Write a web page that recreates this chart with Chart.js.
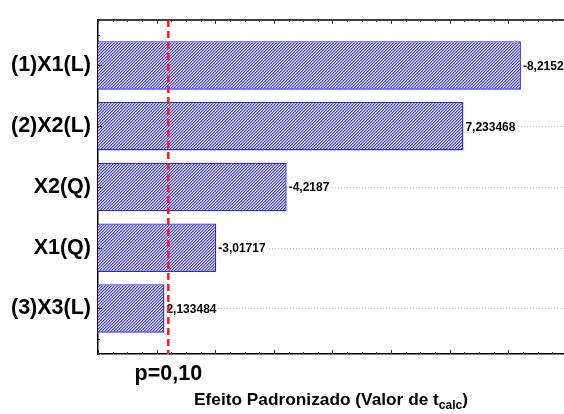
<html lang="pt">
  <head>
    <meta charset="UTF-8" />
    <script src="https://cdn.jsdelivr.net/npm/chart.js"></script>
    <title>Pareto</title>
    <style>
      body { margin: 0; background: #fff; }
      #wrap { width: 564px; height: 414px; }
    </style>
  </head>
  <body>
    <div id="wrap"><canvas id="paretoChart"></canvas></div>
    <script>
        // fatores (de cima para baixo)
        const labels = ['(1)X1(L)', '(2)X2(L)', 'X2(Q)', 'X1(Q)', '(3)X3(L)'];
        const positions = [1, 2, 3, 4, 5];
        // efeito padronizado em valor absoluto (comprimento da barra)
        const barValues = [8.2152, 7.233468, 4.2187, 3.01717, 2.133484];
        // texto mostrado ao lado de cada barra
        const barTexts = ['-8,2152', '7,233468', '-4,2187', '-3,01717', '2,133484'];
        // linha de significancia
        const pValue = 2.2;
        const pText = 'p=0,10';

        const font = '"Liberation Sans", Arial, sans-serif';

        // padrao hachurado das barras
        function makeHatch() {
            const c = document.createElement('canvas');
            c.width = 3; c.height = 3;
            const g = c.getContext('2d');
            const cols = ['#3f3fff', '#9c9cff', '#e2e2ff'];
            for (let x = 0; x < 3; x++) {
                for (let y = 0; y < 3; y++) {
                    g.fillStyle = cols[(x + y) % 3];
                    g.fillRect(x, y, 1, 1);
                }
            }
            return g.createPattern(c, 'repeat');
        }

        const decorPlugin = {
            id: 'decor',
            beforeDatasetsDraw(chart) {
                const { ctx, chartArea: a, scales: { y } } = chart;
                ctx.save();
                ctx.strokeStyle = '#c4c4c4';
                ctx.lineWidth = 1;
                ctx.setLineDash([1, 2]);
                positions.forEach(p => {
                    const py = Math.round(y.getPixelForValue(p)) + 0.5;
                    ctx.beginPath();
                    ctx.moveTo(a.left, py);
                    ctx.lineTo(a.right, py);
                    ctx.stroke();
                });
                ctx.restore();
            },
            afterDatasetsDraw(chart) {
                const { ctx, chartArea: a, scales: { x, y } } = chart;
                ctx.save();

                // rotulos das barras
                const meta = chart.getDatasetMeta(0);
                ctx.font = 'bold 12px ' + font;
                ctx.textBaseline = 'middle';
                ctx.textAlign = 'left';
                meta.data.forEach((bar, i) => {
                    const tx = bar.x + 2;
                    const w = ctx.measureText(barTexts[i]).width;
                    ctx.fillStyle = '#fff';
                    ctx.fillRect(tx, bar.y - 6, w + 1, 12);
                    ctx.fillStyle = '#000';
                    ctx.fillText(barTexts[i], tx, bar.y + 1);
                });

                // borda superior
                ctx.strokeStyle = '#000';
                ctx.lineWidth = 1.5;
                ctx.beginPath();
                ctx.moveTo(a.left, a.top);
                ctx.lineTo(a.right, a.top);
                ctx.stroke();

                // marcas internas do eixo x
                ctx.lineWidth = 1;
                ctx.strokeStyle = '#333';
                for (let v = x.min; v <= x.max + 1e-9; v += 0.25) {
                    const px = Math.round(x.getPixelForValue(v)) + 0.5;
                    const len = Math.abs(v - Math.round(v)) < 1e-6 ? 4 : 2;
                    ctx.beginPath();
                    ctx.moveTo(px, a.bottom);
                    ctx.lineTo(px, a.bottom - len);
                    ctx.moveTo(px, a.top);
                    ctx.lineTo(px, a.top + len);
                    ctx.stroke();
                }
                // marcas internas do eixo y
                [0.5].concat(positions, [5.5]).forEach(p => {
                    const py = Math.round(y.getPixelForValue(p)) + 0.5;
                    const len = Number.isInteger(p) ? 4 : 2;
                    ctx.beginPath();
                    ctx.moveTo(a.left, py);
                    ctx.lineTo(a.left + len, py);
                    ctx.stroke();
                });

                // linha p=0,10
                const lx = x.getPixelForValue(pValue);
                ctx.strokeStyle = '#ff1a1a';
                ctx.lineWidth = 2.5;
                ctx.setLineDash([7, 4]);
                ctx.beginPath();
                ctx.moveTo(lx, a.top);
                ctx.lineTo(lx, a.bottom);
                ctx.stroke();
                ctx.setLineDash([]);

                ctx.fillStyle = '#000';
                ctx.textAlign = 'center';
                ctx.textBaseline = 'alphabetic';
                ctx.font = 'bold 21.5px ' + font;
                ctx.fillText(pText, lx, 380);

                // titulo do eixo x com subscrito
                const main = 'Efeito Padronizado (Valor de t';
                const sub = 'calc';
                const end = ')';
                ctx.font = 'bold 17.3px ' + font;
                const w1 = ctx.measureText(main).width;
                const w3 = ctx.measureText(end).width;
                ctx.font = 'bold 12px ' + font;
                const w2 = ctx.measureText(sub).width;
                let tx = (a.left + a.right) / 2 - (w1 + w2 + w3) / 2;
                ctx.textAlign = 'left';
                ctx.font = 'bold 17.3px ' + font;
                ctx.fillText(main, tx, 405);
                tx += w1;
                ctx.font = 'bold 12px ' + font;
                ctx.fillText(sub, tx, 409);
                tx += w2;
                ctx.font = 'bold 17.3px ' + font;
                ctx.fillText(end, tx, 405);

                ctx.restore();
            }
        };

        const ctx = document.getElementById('paretoChart').getContext('2d');
        const hatch = makeHatch();

        const paretoChart = new Chart(ctx, {
            type: 'bar',
            data: {
                datasets: [{
                    data: positions.map((p, i) => ({ x: barValues[i], y: p })),
                    backgroundColor: hatch,
                    borderColor: '#2828ff',
                    borderWidth: 1.4,
                    borderSkipped: 'start',
                    barPercentage: 0.8,
                    categoryPercentage: 1
                }]
            },
            options: {
                indexAxis: 'y',
                responsive: true,
                maintainAspectRatio: false,
                animation: false,
                layout: { padding: { top: 10, left: 0, right: 0, bottom: 0 } },
                plugins: {
                    legend: { display: false },
                    tooltip: { enabled: false }
                },
                scales: {
                    x: {
                        type: 'linear',
                        min: 1,
                        max: 8.95,
                        grid: { display: false, drawTicks: false },
                        ticks: { display: false },
                        border: { display: true, color: '#000', width: 1.5 },
                        afterFit(scale) { scale.height = 60; }
                    },
                    y: {
                        type: 'linear',
                        min: 0.25,
                        max: 5.75,
                        offset: false,
                        reverse: true,
                        afterBuildTicks(scale) {
                            scale.ticks = positions.map(v => ({ value: v }));
                        },
                        grid: { display: false, drawTicks: false },
                        border: { display: true, color: '#000', width: 1.5 },
                        ticks: {
                            color: '#000',
                            padding: 7,
                            font: { family: font, size: 21.5, weight: 'bold' },
                            callback: (v) => labels[positions.indexOf(v)] || ''
                        },
                        afterFit(scale) { scale.width = 98; }
                    }
                }
            },
            plugins: [decorPlugin]
        });
    </script>
  </body>
</html>
